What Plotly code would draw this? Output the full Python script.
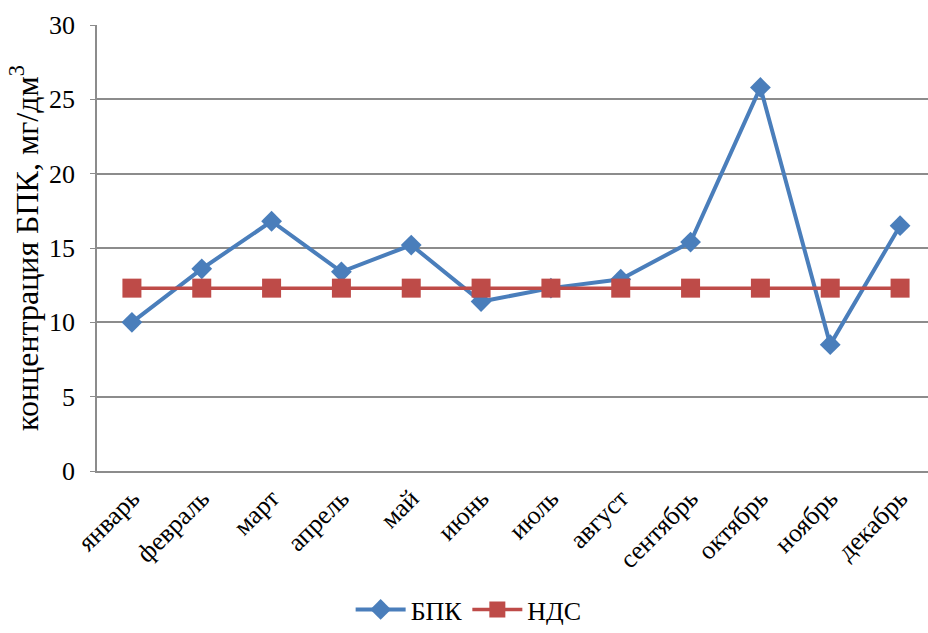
import plotly.graph_objects as go

months = ["январь", "февраль", "март", "апрель", "май", "июнь",
          "июль", "август", "сентябрь", "октябрь", "ноябрь", "декабрь"]
bpk = [10.0, 13.6, 16.8, 13.4, 15.2, 11.4, 12.3, 12.9, 15.4, 25.8, 8.5, 16.5]
nds = [12.3] * 12

y_ticks = [0, 5, 10, 15, 20, 25, 30]

serif = "Liberation Serif, Times New Roman, serif"
grid_color = "#8c8c8c"

fig = go.Figure()
fig.add_trace(go.Scatter(
    x=months, y=bpk, name="БПК", mode="lines+markers",
    line=dict(color="#4a7ebb", width=4),
    marker=dict(symbol="diamond", size=16, color="#4a7ebb"),
))
fig.add_trace(go.Scatter(
    x=months, y=nds, name="НДС", mode="lines+markers",
    line=dict(color="#be4b48", width=3.5),
    marker=dict(symbol="square", size=19, color="#be4b48"),
))

fig.update_layout(
    width=928, height=633,
    margin=dict(l=97, r=0, t=25, b=162),
    paper_bgcolor="white", plot_bgcolor="white",
    font=dict(family=serif, color="black"),
    showlegend=True,
    legend=dict(
        orientation="h", xref="container", yref="container",
        x=0.505, xanchor="center", y=0.0, yanchor="bottom",
        font=dict(size=26, family=serif), itemwidth=50,
    ),
)
fig.update_xaxes(
    type="category", range=[-0.5, 11.4], automargin=False,
    tickangle=-45, tickfont=dict(size=26, family=serif),
    showgrid=False, showline=True, linecolor=grid_color, linewidth=1.5,
    ticks="", zeroline=False,
)
fig.update_yaxes(
    range=[0, 30], tickvals=y_ticks, automargin=False,
    tickfont=dict(size=26, family=serif), ticklabelstandoff=10,
    showgrid=True, gridcolor=grid_color, gridwidth=1.5,
    showline=True, linecolor=grid_color, linewidth=1.5,
    ticks="outside", ticklen=5, tickcolor=grid_color,
    zeroline=False,
    title=dict(text="концентрация БПК, мг/дм<sup>3</sup>",
               font=dict(size=32, family=serif), standoff=1),
)

fig.write_html("out.html")
